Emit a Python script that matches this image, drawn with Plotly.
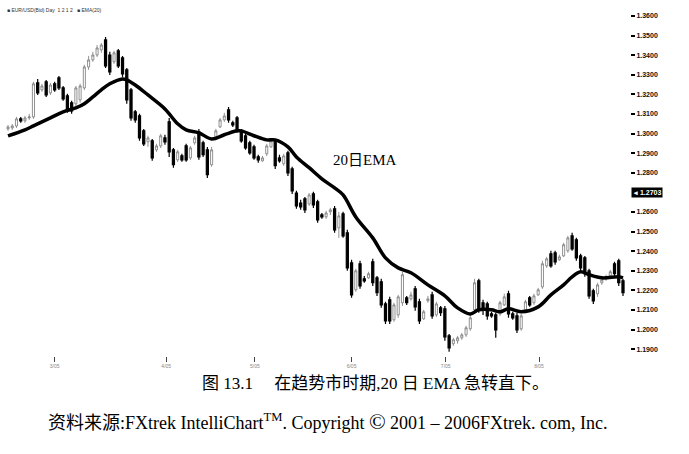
import plotly.graph_objects as go

# EUR/USD daily candles
opens = [1.3024, 1.3029, 1.3039, 1.3075, 1.3065, 1.3080, 1.3085, 1.3259, 1.3223, 1.3264,
         1.3208, 1.3254, 1.3284, 1.3233, 1.3192, 1.3157, 1.3152, 1.3172, 1.3233, 1.3340,
         1.3376, 1.3401, 1.3427, 1.3478, 1.3401, 1.3366, 1.3422, 1.3386, 1.3325, 1.3223,
         1.3111, 1.3090, 1.3014, 1.2958, 1.2963, 1.2917, 1.2937, 1.2978, 1.3060, 1.2917,
         1.2866, 1.2886, 1.2937, 1.2876, 1.2953, 1.3009, 1.2953, 1.2917, 1.2841, 1.2983,
         1.3034, 1.3070, 1.3121, 1.3055, 1.3080, 1.3014, 1.2989, 1.2953, 1.2932, 1.2881,
         1.2861, 1.2897, 1.2932, 1.2963, 1.2876, 1.2846, 1.2902, 1.2820, 1.2697, 1.2646,
         1.2667, 1.2641, 1.2692, 1.2652, 1.2585, 1.2575, 1.2601, 1.2616, 1.2519, 1.2590,
         1.2494, 1.2341, 1.2203, 1.2336, 1.2259, 1.2264, 1.2346, 1.2264, 1.2244, 1.2131,
         1.2152, 1.2050, 1.2075, 1.2137, 1.2162, 1.2157, 1.2208, 1.2142, 1.2055, 1.2147,
         1.2177, 1.2075, 1.2111, 1.2106, 1.1968, 1.1928, 1.1943, 1.1958, 1.1973, 1.2004,
         1.2101, 1.2249, 1.2137, 1.2131, 1.2080, 1.2075, 1.2080, 1.2126, 1.2183, 1.2080,
         1.2070, 1.2004, 1.2101, 1.2162, 1.2137, 1.2177, 1.2218, 1.2325, 1.2387, 1.2392,
         1.2356, 1.2376, 1.2402, 1.2478, 1.2458, 1.2376, 1.2366, 1.2300, 1.2198, 1.2183,
         1.2239, 1.2259, 1.2274, 1.2336, 1.2351, 1.2249]
highs = [1.3044, 1.3049, 1.3085, 1.3085, 1.3090, 1.3101, 1.3264, 1.3279, 1.3254, 1.3274,
         1.3259, 1.3264, 1.3294, 1.3243, 1.3203, 1.3167, 1.3243, 1.3254, 1.3351, 1.3396,
         1.3417, 1.3452, 1.3462, 1.3493, 1.3417, 1.3422, 1.3432, 1.3396, 1.3335, 1.3233,
         1.3121, 1.3101, 1.3024, 1.2989, 1.2973, 1.2948, 1.2999, 1.2994, 1.3080, 1.2927,
         1.2917, 1.2897, 1.2948, 1.2937, 1.2989, 1.3024, 1.2963, 1.2932, 1.2932, 1.3024,
         1.3080, 1.3106, 1.3136, 1.3065, 1.3090, 1.3024, 1.2999, 1.2963, 1.2943, 1.2892,
         1.2886, 1.2948, 1.2973, 1.2973, 1.2892, 1.2897, 1.2912, 1.2831, 1.2708, 1.2662,
         1.2677, 1.2697, 1.2703, 1.2662, 1.2595, 1.2606, 1.2621, 1.2631, 1.2601, 1.2601,
         1.2509, 1.2356, 1.2310, 1.2351, 1.2274, 1.2295, 1.2361, 1.2274, 1.2259, 1.2142,
         1.2167, 1.2137, 1.2177, 1.2295, 1.2172, 1.2193, 1.2223, 1.2157, 1.2101, 1.2172,
         1.2193, 1.2142, 1.2121, 1.2121, 1.1978, 1.1958, 1.1968, 1.1983, 1.2019, 1.2075,
         1.2259, 1.2259, 1.2152, 1.2142, 1.2091, 1.2086, 1.2147, 1.2183, 1.2198, 1.2091,
         1.2086, 1.2080, 1.2152, 1.2172, 1.2183, 1.2213, 1.2351, 1.2371, 1.2402, 1.2402,
         1.2382, 1.2443, 1.2478, 1.2494, 1.2468, 1.2387, 1.2376, 1.2310, 1.2208, 1.2239,
         1.2264, 1.2280, 1.2305, 1.2346, 1.2361, 1.2259]
lows = [1.3014, 1.3019, 1.3029, 1.3055, 1.3055, 1.3070, 1.3075, 1.3197, 1.3213, 1.3187,
        1.3197, 1.3213, 1.3223, 1.3167, 1.3106, 1.3101, 1.3141, 1.3157, 1.3223, 1.3325,
        1.3366, 1.3391, 1.3412, 1.3335, 1.3299, 1.3356, 1.3335, 1.3289, 1.3152, 1.3065,
        1.3055, 1.2963, 1.2937, 1.2932, 1.2861, 1.2907, 1.2927, 1.2943, 1.2881, 1.2826,
        1.2856, 1.2856, 1.2856, 1.2866, 1.2943, 1.2866, 1.2881, 1.2774, 1.2831, 1.2978,
        1.3029, 1.3060, 1.3055, 1.3034, 1.3004, 1.2953, 1.2917, 1.2892, 1.2866, 1.2851,
        1.2856, 1.2886, 1.2927, 1.2820, 1.2851, 1.2836, 1.2784, 1.2692, 1.2616, 1.2611,
        1.2595, 1.2631, 1.2621, 1.2545, 1.2565, 1.2565, 1.2585, 1.2494, 1.2468, 1.2468,
        1.2300, 1.2162, 1.2193, 1.2208, 1.2239, 1.2259, 1.2223, 1.2172, 1.2111, 1.2029,
        1.2029, 1.2040, 1.2060, 1.2121, 1.2126, 1.2147, 1.2096, 1.2029, 1.2050, 1.2137,
        1.2055, 1.2065, 1.2070, 1.1943, 1.1887, 1.1917, 1.1928, 1.1948, 1.1963, 1.1994,
        1.2091, 1.2086, 1.2075, 1.2050, 1.2060, 1.1958, 1.2070, 1.2121, 1.2060, 1.2050,
        1.1983, 1.1994, 1.2096, 1.2116, 1.2126, 1.2172, 1.2208, 1.2315, 1.2315, 1.2331,
        1.2351, 1.2371, 1.2392, 1.2402, 1.2351, 1.2300, 1.2269, 1.2157, 1.2131, 1.2167,
        1.2228, 1.2249, 1.2269, 1.2269, 1.2223, 1.2172]
closes = [1.3034, 1.3039, 1.3075, 1.3065, 1.3080, 1.3085, 1.3254, 1.3208, 1.3243, 1.3197,
          1.3248, 1.3223, 1.3233, 1.3177, 1.3121, 1.3116, 1.3233, 1.3243, 1.3340, 1.3376,
          1.3401, 1.3437, 1.3452, 1.3345, 1.3315, 1.3412, 1.3345, 1.3305, 1.3172, 1.3080,
          1.3070, 1.2978, 1.2948, 1.2978, 1.2876, 1.2937, 1.2989, 1.2958, 1.2907, 1.2841,
          1.2907, 1.2866, 1.2866, 1.2927, 1.2978, 1.2881, 1.2892, 1.2790, 1.2917, 1.3014,
          1.3070, 1.3090, 1.3070, 1.3044, 1.3014, 1.2963, 1.2927, 1.2902, 1.2876, 1.2866,
          1.2876, 1.2937, 1.2963, 1.2836, 1.2861, 1.2886, 1.2800, 1.2708, 1.2631, 1.2626,
          1.2611, 1.2687, 1.2636, 1.2560, 1.2575, 1.2595, 1.2611, 1.2509, 1.2580, 1.2478,
          1.2315, 1.2177, 1.2300, 1.2223, 1.2249, 1.2285, 1.2239, 1.2188, 1.2126, 1.2045,
          1.2045, 1.2126, 1.2167, 1.2280, 1.2137, 1.2177, 1.2116, 1.2045, 1.2091, 1.2157,
          1.2070, 1.2131, 1.2086, 1.1963, 1.1907, 1.1948, 1.1958, 1.1973, 1.2009, 1.2060,
          1.2239, 1.2101, 1.2101, 1.2070, 1.2070, 1.1999, 1.2137, 1.2167, 1.2080, 1.2060,
          1.1999, 1.2070, 1.2142, 1.2126, 1.2172, 1.2203, 1.2336, 1.2361, 1.2325, 1.2346,
          1.2371, 1.2433, 1.2468, 1.2412, 1.2366, 1.2315, 1.2285, 1.2172, 1.2147, 1.2228,
          1.2254, 1.2269, 1.2295, 1.2285, 1.2239, 1.2188]

# 20-day EMA as drawn on the chart (bar index, value)
ema_idx = [0, 4, 6, 10, 13, 16, 18, 20, 22, 24, 27, 28, 30, 33, 37, 40, 42, 45, 48, 51,
           54, 55, 58, 61, 63, 66, 68, 71, 74, 77, 79, 82, 86, 89, 92, 95, 99, 103, 106, 109,
           111, 114, 116, 118, 121, 125, 128, 131, 133, 135, 137, 140, 144, 145]
ema_vals = [1.2988, 1.3019, 1.3039, 1.3080, 1.3111, 1.3131, 1.3152, 1.3187, 1.3223, 1.3254,
            1.3279, 1.3274, 1.3248, 1.3197, 1.3126, 1.3050, 1.3019, 1.3004, 1.2973, 1.2994,
            1.3014, 1.3014, 1.2989, 1.2968, 1.2968, 1.2932, 1.2881, 1.2826, 1.2769, 1.2723,
            1.2687, 1.2575, 1.2468, 1.2366, 1.2315, 1.2290, 1.2228, 1.2172, 1.2111, 1.2080,
            1.2101, 1.2101, 1.2091, 1.2106, 1.2091, 1.2116, 1.2177, 1.2228, 1.2269, 1.2295,
            1.2280, 1.2264, 1.2269, 1.2264]

month_ticks = [11, 37.3, 58.2, 81, 103.2, 125.2]
month_labels = ["3/05", "4/05", "5/05", "6/05", "7/05", "8/05"]

price_ticks = [1.36, 1.35, 1.34, 1.33, 1.32, 1.31, 1.30, 1.29, 1.28,
               1.26, 1.25, 1.24, 1.23, 1.22, 1.21, 1.20, 1.19]
last_label = "1.2703"

bars = list(range(len(closes)))

fig = go.Figure()

fig.add_trace(go.Candlestick(
    x=bars, open=opens, high=highs, low=lows, close=closes,
    increasing=dict(line=dict(color="#777777", width=0.8), fillcolor="white"),
    decreasing=dict(line=dict(color="black", width=1.2), fillcolor="black"),
    whiskerwidth=0, showlegend=False, hoverinfo="skip"
))

fig.add_trace(go.Scatter(
    x=ema_idx, y=ema_vals, mode="lines",
    line=dict(color="black", width=3.5, shape="spline", smoothing=1.0),
    showlegend=False, hoverinfo="skip"
))

serif = "Liberation Serif, Noto Sans CJK SC"

fig.update_layout(
    width=689, height=454,
    margin=dict(l=5, r=59, t=5, b=98),
    paper_bgcolor="white", plot_bgcolor="white",
    xaxis=dict(
        range=[-0.71, 146.65], rangeslider=dict(visible=False),
        showgrid=False, zeroline=False, showline=False,
        tickmode="array", tickvals=month_ticks, ticktext=month_labels,
        ticks="outside", ticklen=5, tickwidth=1, tickcolor="#444",
        tickfont=dict(family="Liberation Sans", size=5, color="#888")
    ),
    yaxis=dict(
        side="right", range=[1.18653, 1.36561],
        showgrid=False, zeroline=False, showline=False,
        tickmode="array", tickvals=price_ticks,
        ticktext=[f"<b>{v:.4f}</b>" for v in price_ticks],
        ticks="outside", ticklen=4, tickwidth=1.5, tickcolor="black",
        tickfont=dict(family="Liberation Sans", size=7, color="#111")
    ),
    annotations=[
        dict(xref="paper", yref="y", x=1.0, y=1.27, xanchor="left", yanchor="middle",
             xshift=1, text="<b>◂ " + last_label + "</b>", showarrow=False,
             bgcolor="black", font=dict(family="Liberation Sans", size=7, color="white"),
             borderpad=1),
        dict(xref="paper", yref="paper", x=0.0, y=0.986, xanchor="left", yanchor="middle",
             text="■ EUR/USD(Bid) Day  1 2 1 2   ■ EMA(20)", showarrow=False,
             font=dict(family="Liberation Sans", size=5, color="#333")),
        dict(xref="x", yref="y", x=84.2, y=1.2865, xanchor="center", yanchor="middle",
             text="20日EMA", showarrow=False,
             font=dict(family=serif, size=15, color="black")),
        dict(xref="paper", yref="paper", x=0.592, y=-0.077, xanchor="center", yanchor="middle",
             text="图 13.1 　在趋势市时期,20 日 EMA 急转直下。", showarrow=False,
             font=dict(family=serif, size=17, color="black")),
        dict(xref="paper", yref="paper", x=0.517, y=-0.188, xanchor="center", yanchor="middle",
             text="资料来源:FXtrek IntelliChart<sup>TM</sup>. Copyright "
                  "<span style='font-size:22px'>©</span> 2001 – 2006FXtrek. com, Inc.",
             showarrow=False,
             font=dict(family=serif, size=18, color="black")),
    ]
)

fig.write_html("out.html", config={"displayModeBar": False},
               post_script="document.body.style.margin='0px';")
